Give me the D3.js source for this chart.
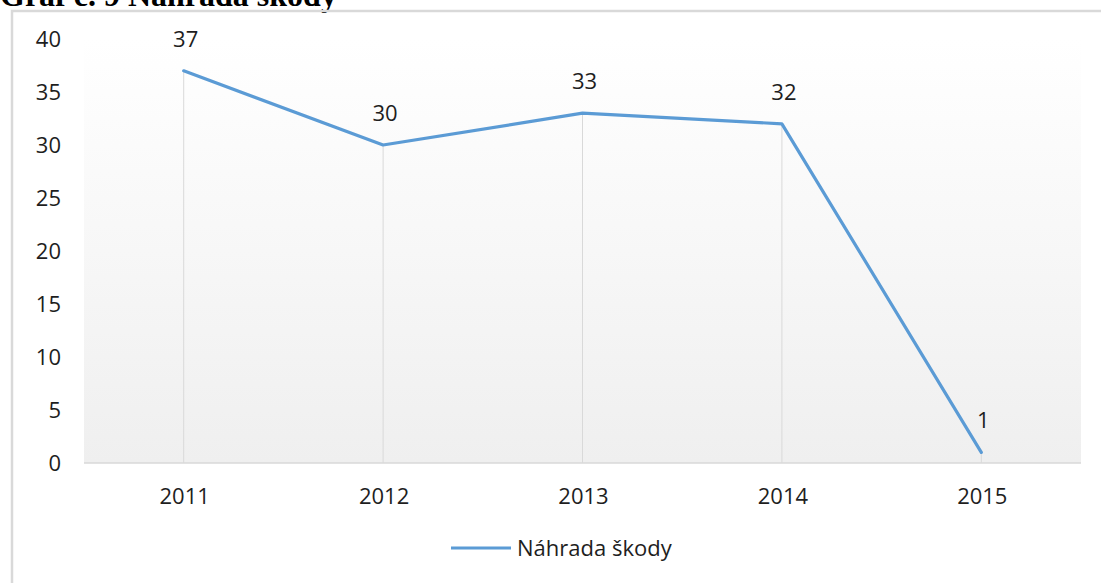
<!DOCTYPE html>
<html>
<head>
<meta charset="utf-8">
<script src="https://cdn.jsdelivr.net/npm/d3@7"></script>
<style>
  html, body { margin: 0; padding: 0; background: #fff; overflow: hidden; }
  text { font-family: "Open Sans", "Noto Sans", sans-serif; }
</style>
</head>
<body>
<script>
const years = ['2011', '2012', '2013', '2014', '2015']
const values = [37, 30, 33, 32, 1]
const yTicks = [0, 5, 10, 15, 20, 25, 30, 35, 40]
const seriesName = 'Náhrada škody'
const title = 'Graf č. 9 Náhrada škody'

const width = 1101
const height = 583
const blue = '#5b9bd5'
const ink = '#1e1e1e'

const svg = d3.select('body').append('svg')
  .attr('width', width)
  .attr('height', height)

// gradient for plot area
const defs = svg.append('defs')
const grad = defs.append('linearGradient')
  .attr('id', 'bg')
  .attr('x1', 0).attr('y1', 0).attr('x2', 0).attr('y2', 1)
grad.append('stop').attr('offset', '0%').attr('stop-color', '#ffffff')
grad.append('stop').attr('offset', '100%').attr('stop-color', '#efefef')

// title, partly above the page edge as in the scan
svg.append('text')
  .attr('x', 0)
  .attr('y', 6)
  .style('font-family', '"Liberation Serif", "Times New Roman", serif')
  .style('font-weight', 'bold')
  .style('font-size', '32px')
  .attr('fill', '#000')
  .text(title)

// chart frame (left and top edges)
svg.append('path')
  .attr('d', 'M12,' + height + ' V11 H' + width)
  .attr('fill', 'none')
  .attr('stroke', '#d9d9d9')
  .attr('stroke-width', 2.5)

const x = d3.scaleBand().domain(years).range([84, 1081])
const y = d3.scaleLinear().domain([0, 40]).range([463, 39])
const cx = d => x(d) + x.bandwidth() / 2

svg.append('rect')
  .attr('x', 84)
  .attr('y', y(40))
  .attr('width', 1081 - 84)
  .attr('height', y(0) - y(40))
  .attr('fill', 'url(#bg)')

// y tick labels
svg.append('g')
  .selectAll('text')
  .data(yTicks)
  .join('text')
  .attr('x', 61)
  .attr('y', d => y(d))
  .attr('dy', '0.35em')
  .attr('text-anchor', 'end')
  .style('font-size', '22px')
  .attr('fill', ink)
  .text(d => d)

// x axis line
svg.append('line')
  .attr('x1', 84).attr('x2', 1081)
  .attr('y1', y(0)).attr('y2', y(0))
  .attr('stroke', '#d9d9d9')
  .attr('stroke-width', 1.5)

// x labels
svg.append('g')
  .selectAll('text')
  .data(years)
  .join('text')
  .attr('x', d => cx(d) + 1)
  .attr('y', 504)
  .attr('text-anchor', 'middle')
  .style('font-size', '22px')
  .attr('fill', ink)
  .text(d => d)

const pts = years.map((yr, i) => ({ yr, v: values[i] }))

// drop lines
svg.append('g')
  .selectAll('line')
  .data(pts)
  .join('line')
  .attr('x1', d => cx(d.yr)).attr('x2', d => cx(d.yr))
  .attr('y1', d => y(d.v)).attr('y2', y(0))
  .attr('stroke', '#d9d9d9')
  .attr('stroke-width', 1)

// series line
svg.append('path')
  .datum(pts)
  .attr('fill', 'none')
  .attr('stroke', blue)
  .attr('stroke-width', 3.2)
  .attr('stroke-linejoin', 'round')
  .attr('stroke-linecap', 'round')
  .attr('d', d3.line().x(d => cx(d.yr)).y(d => y(d.v)))

// data labels
svg.append('g')
  .selectAll('text')
  .data(pts)
  .join('text')
  .attr('x', d => cx(d.yr) + 2)
  .attr('y', d => y(d.v) - 24)
  .attr('text-anchor', 'middle')
  .style('font-size', '22px')
  .attr('fill', ink)
  .text(d => d.v)

// legend
const lg = svg.append('g')
lg.append('line')
  .attr('x1', 451).attr('x2', 511)
  .attr('y1', 548).attr('y2', 548)
  .attr('stroke', blue)
  .attr('stroke-width', 3.2)
lg.append('text')
  .attr('x', 517)
  .attr('y', 556)
  .style('font-size', '22px')
  .attr('fill', ink)
  .text(seriesName)
</script>
</body>
</html>
